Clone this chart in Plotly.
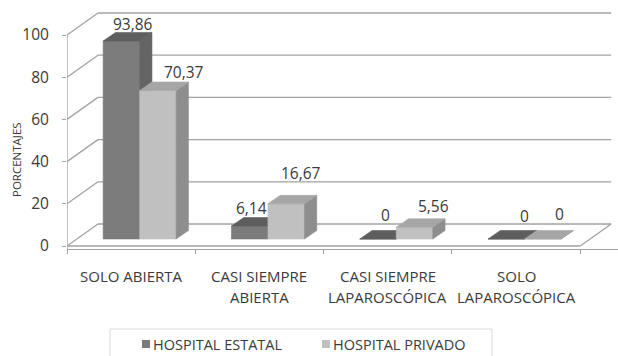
import plotly.graph_objects as go

# ---- data -------------------------------------------------------------
CATEGORIES = [
    "SOLO ABIERTA",
    "CASI SIEMPRE<br>ABIERTA",
    "CASI SIEMPRE<br>LAPAROSCÓPICA",
    "SOLO<br>LAPAROSCÓPICA",
]
SERIES_NAMES = ["HOSPITAL ESTATAL", "HOSPITAL PRIVADO"]
ESTATAL = [93.86, 6.14, 0, 0]
PRIVADO = [70.37, 16.67, 5.56, 0]
Y_TICKS = [0, 20, 40, 60, 80, 100]
Y_TITLE = "PORCENTAJES"

# ---- styling ----------------------------------------------------------
FONT = "Open Sans"
TEXT_COLOR = "#3a3a3a"
GRID_COLOR = "#a2a2a2"
# (front, side, top) shades for each series
FACE_COLORS = [
    ("#7b7b7b", "#646464", "#5e5e5e"),
    ("#c0c0c0", "#8e8e8e", "#a6a6a6"),
]
# value-label nudges (px) relative to the top/back centre of each bar
LABEL_DX = [[-0.5, -10.5, -4.5, 5.5], [14, 2, 6.5, 4.5]]
LABEL_DY = [[8.5, 10, 15.5, 14.5], [10, 22, 13, 16.5]]

# ---- pseudo-3D geometry ----------------------------------------------
W, H = 618, 356
ML, MR, MT, MB = 67, 0, 5, 107
PX_X = 128.3          # px per category
PX_Y = 2.11           # px per percentage point
ZERO_PX = 246         # pixel row of value 0 on the front edge
PLOT_W = W - ML - MR
PLOT_H = H - MT - MB
X_RANGE = [-0.5, -0.5 + PLOT_W / PX_X]
Y_RANGE = [(ZERO_PX - (MT + PLOT_H)) / PX_Y, (ZERO_PX - MT) / PX_Y]

WALL_DX, WALL_DY = 31 / PX_X, 22 / PX_Y      # depth of the chart box
BAR_W = 36.5 / PX_X
PAIR_SHIFT = 8.5 / PX_X
BAR_BASE = 7 / PX_Y                           # bars sit slightly back on the floor
BAR_DX, BAR_DY = 12.3 / PX_X, 8.5 / PX_Y      # depth of each bar


def px_to_paper_x(px):
    return (px - ML) / PLOT_W


def px_to_paper_y(py):
    return (MT + PLOT_H - py) / PLOT_H


def fmt(v):
    return f"{v:g}".replace(".", ",")


fig = go.Figure()

series_values = [ESTATAL, PRIVADO]
annotations = []

for ci in range(len(CATEGORIES)):
    for si, values in enumerate(series_values):
        v = values[ci]
        x0 = ci + PAIR_SHIFT + (si - 1) * BAR_W
        x1 = x0 + BAR_W
        b = BAR_BASE
        t = b + v
        front_c, side_c, top_c = FACE_COLORS[si]
        faces = [
            ([x0, x1, x1, x0, x0], [b, b, t, t, b], front_c),
            ([x1, x1 + BAR_DX, x1 + BAR_DX, x1, x1],
             [b, b + BAR_DY, t + BAR_DY, t, b], side_c),
            ([x0, x1, x1 + BAR_DX, x0 + BAR_DX, x0],
             [t, t, t + BAR_DY, t + BAR_DY, t], top_c),
        ]
        for fx, fy, col in faces:
            fig.add_trace(go.Scatter(
                x=fx, y=fy, mode="lines", fill="toself",
                fillcolor=col, line=dict(color=col, width=0.6),
                hoverinfo="skip", showlegend=False,
            ))
        annotations.append(dict(
            x=(x0 + x1) / 2 + BAR_DX, y=t + BAR_DY, xref="x", yref="y",
            text=fmt(v), showarrow=False, xanchor="center", yanchor="middle",
            xshift=LABEL_DX[si][ci], yshift=LABEL_DY[si][ci],
            font=dict(family=FONT, size=15.5, color=TEXT_COLOR),
        ))

# ---- walls, floor and gridlines --------------------------------------
shapes = []
line_style = dict(color=GRID_COLOR, width=1.3)
x_left, x_right = X_RANGE[0], len(CATEGORIES) - 0.5
for v in Y_TICKS:
    shapes.append(dict(type="line", xref="x", yref="y", layer="below",
                       x0=x_left, y0=v, x1=x_left + WALL_DX, y1=v + WALL_DY,
                       line=line_style))
    shapes.append(dict(type="line", xref="x", yref="y", layer="below",
                       x0=x_left + WALL_DX, y0=v + WALL_DY,
                       x1=x_right + WALL_DX, y1=v + WALL_DY, line=line_style))
# floor front edge and right edge
shapes.append(dict(type="line", xref="x", yref="y", layer="below",
                   x0=x_left, y0=0, x1=x_right, y1=0, line=line_style))
shapes.append(dict(type="line", xref="x", yref="y", layer="below",
                   x0=x_right, y0=0, x1=x_right + WALL_DX, y1=WALL_DY,
                   line=line_style))
# value axis line
shapes.append(dict(type="line", xref="x", yref="y", layer="below",
                   x0=x_left, y0=Y_RANGE[0], x1=x_left, y1=Y_TICKS[-1],
                   line=line_style))

# ---- category labels (one annotation per text line) ------------------
LINE_PX = [276, 296.5]
for ci, cat in enumerate(CATEGORIES):
    for li, part in enumerate(cat.split("<br>")):
        annotations.append(dict(
            x=ci, y=px_to_paper_y(LINE_PX[li]), xref="x", yref="paper",
            text=part, showarrow=False, xanchor="center", yanchor="middle",
            font=dict(family=FONT, size=15, color=TEXT_COLOR),
        ))

# value axis title
annotations.append(dict(
    x=px_to_paper_x(16), y=px_to_paper_y(160), xref="paper", yref="paper",
    text=Y_TITLE, textangle=-90, showarrow=False,
    xanchor="center", yanchor="middle",
    font=dict(family=FONT, size=11.5, color=TEXT_COLOR),
))

# ---- legend box -------------------------------------------------------
shapes.append(dict(type="rect", xref="paper", yref="paper",
                   x0=px_to_paper_x(110), x1=px_to_paper_x(492),
                   y0=px_to_paper_y(372), y1=px_to_paper_y(329),
                   line=dict(color="#d9d9d9", width=1), fillcolor="white"))
LEGEND_KEY_PX = [142, 322]
for si, name in enumerate(SERIES_NAMES):
    kx = LEGEND_KEY_PX[si]
    shapes.append(dict(type="rect", xref="paper", yref="paper",
                       x0=px_to_paper_x(kx), x1=px_to_paper_x(kx + 8),
                       y0=px_to_paper_y(348), y1=px_to_paper_y(340),
                       line=dict(width=0), fillcolor=FACE_COLORS[si][0]))
    annotations.append(dict(
        x=px_to_paper_x(kx + 9), y=px_to_paper_y(344),
        xref="paper", yref="paper", text=name, showarrow=False,
        xanchor="left", yanchor="middle",
        font=dict(family=FONT, size=14.5, color=TEXT_COLOR),
    ))

fig.update_layout(
    width=W, height=H,
    margin=dict(l=ML, r=MR, t=MT, b=MB, pad=0),
    paper_bgcolor="white", plot_bgcolor="white",
    showlegend=False,
    shapes=shapes, annotations=annotations,
    xaxis=dict(
        range=X_RANGE, showgrid=False, zeroline=False,
        showline=True, linecolor=GRID_COLOR, linewidth=1.3,
        tickmode="array",
        tickvals=[i - 0.5 for i in range(len(CATEGORIES) + 1)],
        ticktext=[""] * (len(CATEGORIES) + 1),
        ticks="outside", ticklen=4, tickcolor=GRID_COLOR, tickwidth=1.3,
        showticklabels=False, fixedrange=True,
    ),
    yaxis=dict(
        range=Y_RANGE, showgrid=False, zeroline=False, showline=False,
        tickmode="array", tickvals=Y_TICKS,
        ticks="outside", ticklen=4, tickcolor=GRID_COLOR, tickwidth=1.3,
        ticklabelstandoff=10,
        tickfont=dict(family=FONT, size=15.5, color=TEXT_COLOR),
        fixedrange=True,
    ),
)

fig.write_html("out.html")
